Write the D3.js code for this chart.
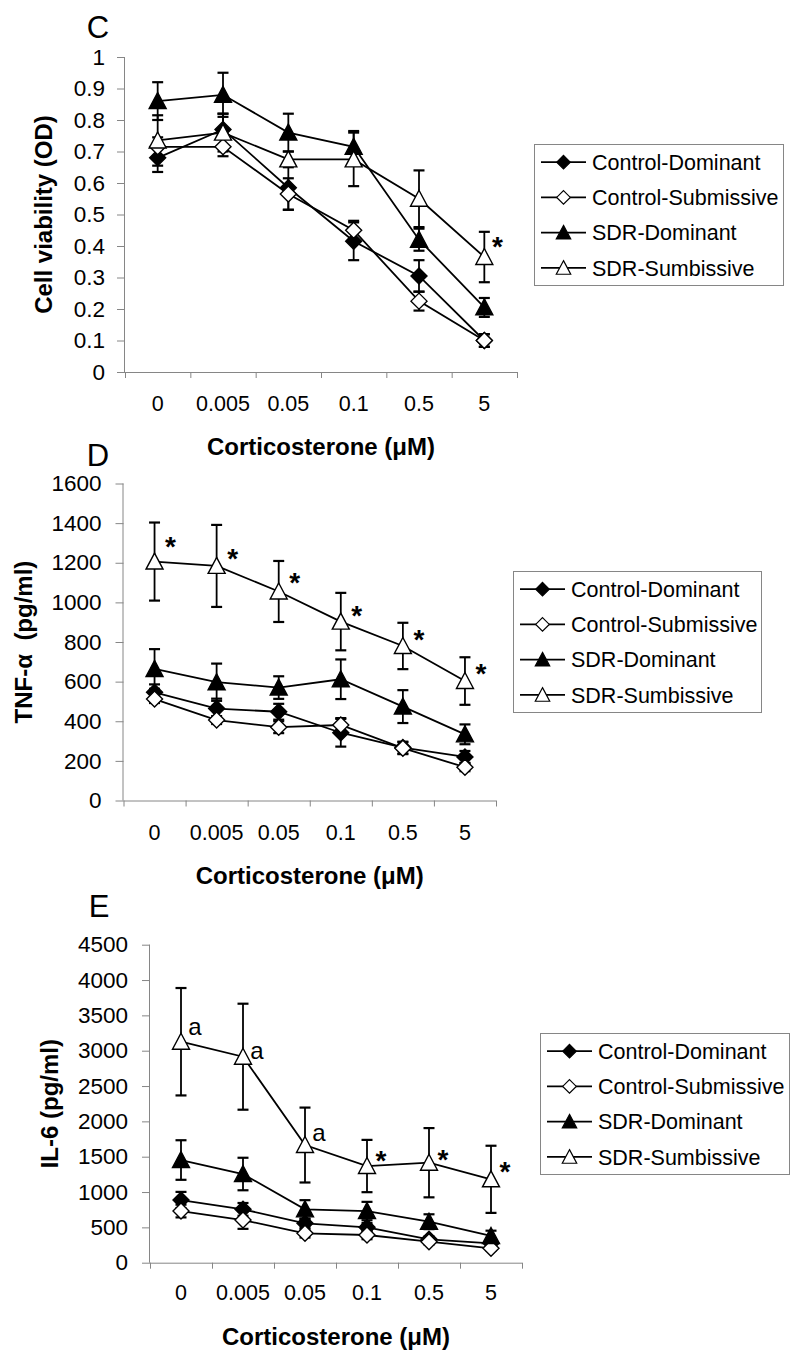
<!DOCTYPE html>
<html>
<head>
<meta charset="utf-8">
<script src="https://cdn.jsdelivr.net/npm/d3@7"></script>
<style>
  html, body { margin: 0; padding: 0; background: #fff; }
  svg { display: block; }
  text { font-family: "Liberation Sans", Arial, sans-serif; fill: #000; }
</style>
</head>
<body>
<script>
// ---------------- DATA ----------------
const doses = ["0", "0.005", "0.05", "0.1", "0.5", "5"];
const seriesNames = ["Control-Dominant", "Control-Submissive", "SDR-Dominant", "SDR-Sumbissive"];

// Panel C: cell viability (OD)
const cvTicks = [0, 0.1, 0.2, 0.3, 0.4, 0.5, 0.6, 0.7, 0.8, 0.9, 1];
const cvTickLabels = ["0", "0.1", "0.2", "0.3", "0.4", "0.5", "0.6", "0.7", "0.8", "0.9", "1"];
const cvControlDom = [0.68, 0.77, 0.585, 0.415, 0.305, 0.10];
const cvControlDomErr = [0.045, 0.05, 0.07, 0.06, 0.05, 0.02];
const cvControlSub = [0.715, 0.715, 0.565, 0.45, 0.225, 0.10];
const cvControlSubErr = [0.03, 0.03, 0.05, 0.03, 0.03, 0.02];
const cvSdrDom = [0.86, 0.88, 0.76, 0.715, 0.42, 0.205];
const cvSdrDomErr = [0.06, 0.07, 0.06, 0.05, 0.035, 0.03];
const cvSdrSub = [0.735, 0.76, 0.675, 0.675, 0.55, 0.365];
const cvSdrSubErr = [0.08, 0.06, 0.025, 0.085, 0.09, 0.08];
const cvMarks = [{ dose: "5", value: 0.42, label: "*" }];

// Panel D: TNF-alpha (pg/ml)
const tnfTicks = [0, 200, 400, 600, 800, 1000, 1200, 1400, 1600];
const tnfTickLabels = ["0", "200", "400", "600", "800", "1000", "1200", "1400", "1600"];
const tnfControlDom = [546, 464, 448, 342, 267, 220];
const tnfControlDomErr = [40, 50, 40, 70, 30, 30];
const tnfControlSub = [512, 406, 370, 381, 264, 168];
const tnfControlSubErr = [20, 20, 30, 35, 30, 20];
const tnfSdrDom = [664, 597, 570, 612, 474, 334];
const tnfSdrDomErr = [100, 94, 57, 100, 83, 50];
const tnfSdrSub = [1206, 1184, 1055, 903, 780, 603];
const tnfSdrSubErr = [197, 207, 154, 145, 117, 120];
const tnfMarks = [
  { dose: "0", value: 1316, label: "*" },
  { dose: "0.005", value: 1257, label: "*" },
  { dose: "0.05", value: 1134, label: "*" },
  { dose: "0.1", value: 969, label: "*" },
  { dose: "0.5", value: 847, label: "*" },
  { dose: "5", value: 676, label: "*" }
];

// Panel E: IL-6 (pg/ml)
const il6Ticks = [0, 500, 1000, 1500, 2000, 2500, 3000, 3500, 4000, 4500];
const il6TickLabels = ["0", "500", "1000", "1500", "2000", "2500", "3000", "3500", "4000", "4500"];
const il6ControlDom = [887, 755, 557, 501, 331, 274];
const il6ControlDomErr = [115, 90, 60, 60, 40, 40];
const il6ControlSub = [731, 604, 416, 392, 297, 204];
const il6ControlSubErr = [90, 125, 60, 60, 40, 30];
const il6SdrDom = [1453, 1255, 755, 731, 580, 378];
const il6SdrDomErr = [280, 230, 130, 130, 105, 75];
const il6SdrSub = [3127, 2915, 1665, 1368, 1415, 1180];
const il6SdrSubErr = [760, 750, 530, 370, 490, 475];
const il6Marks = [
  { dose: "0", value: 3317, label: "a" },
  { dose: "0.005", value: 2986, label: "a" },
  { dose: "0.05", value: 1821, label: "a" },
  { dose: "0.1", value: 1538, label: "*" },
  { dose: "0.5", value: 1557, label: "*" },
  { dose: "5", value: 1383, label: "*" }
];

const xTitle = "Corticosterone (\u03BCM)";

// ---------------- LAYOUT / STYLE ----------------
const W = 800, H = 1358;
const axisColor = "#868686";
const markerStyles = [
  { shape: "diamond", fill: "#000" },
  { shape: "diamond", fill: "#fff" },
  { shape: "triangle", fill: "#000" },
  { shape: "triangle", fill: "#fff" }
];

const panels = [
  {
    letter: "C", letterX: 98, letterY: 27,
    values: [cvControlDom, cvControlSub, cvSdrDom, cvSdrSub],
    errors: [cvControlDomErr, cvControlSubErr, cvSdrDomErr, cvSdrSubErr],
    ticks: cvTicks, tickLabels: cvTickLabels, domain: [0, 1],
    x0: 125, x1: 517, yTop: 57, yBot: 372, tickPad: 12,
    yTitle: ["Cell viability (OD)"], yTitleX: 52,
    xLabelY: 403, xTitleY: 447,
    legend: { x: 534, y: 144, w: 249, h: 141 },
    marks: cvMarks, markDx: 13
  },
  {
    letter: "D", letterX: 98, letterY: 455,
    values: [tnfControlDom, tnfControlSub, tnfSdrDom, tnfSdrSub],
    errors: [tnfControlDomErr, tnfControlSubErr, tnfSdrDomErr, tnfSdrSubErr],
    ticks: tnfTicks, tickLabels: tnfTickLabels, domain: [0, 1600],
    x0: 123.5, x1: 496, yTop: 483.5, yBot: 800.5, tickPad: 14,
    yTitle: ["TNF-", "\u03B1", "  (pg/ml)"], yTitleX: 32,
    xLabelY: 832, xTitleY: 876,
    legend: { x: 513, y: 571, w: 248, h: 141 },
    marks: tnfMarks, markDx: 16
  },
  {
    letter: "E", letterX: 99, letterY: 906,
    values: [il6ControlDom, il6ControlSub, il6SdrDom, il6SdrSub],
    errors: [il6ControlDomErr, il6ControlSubErr, il6SdrDomErr, il6SdrSubErr],
    ticks: il6Ticks, tickLabels: il6TickLabels, domain: [0, 4500],
    x0: 150, x1: 522, yTop: 944.7, yBot: 1262.7, tickPad: 14,
    yTitle: ["IL-6 (pg/ml)"], yTitleX: 58,
    xLabelY: 1292, xTitleY: 1337,
    legend: { x: 540, y: 1033, w: 249, h: 141 },
    marks: il6Marks, markDx: 14
  }
];

function markerPath(shape) {
  if (shape === "diamond") {
    const r = 8;
    return `M0,${-r}L${r},0L0,${r}L${-r},0Z`;
  }
  const hw = 8.5, h = 15;
  return `M0,${-h / 2 - 1}L${hw},${h / 2}L${-hw},${h / 2}Z`;
}

const svg = d3.select("body").append("svg")
  .attr("width", W).attr("height", H)
  .attr("viewBox", `0 0 ${W} ${H}`);

svg.append("rect").attr("width", W).attr("height", H).attr("fill", "#fff");

panels.forEach(p => {
  const g = svg.append("g");
  const x = d3.scaleBand().domain(doses).range([p.x0, p.x1]).padding(0);
  const y = d3.scaleLinear().domain(p.domain).range([p.yBot, p.yTop]);
  const cx = d => x(d) + x.bandwidth() / 2;

  // panel letter
  g.append("text").attr("x", p.letterX).attr("y", p.letterY).attr("dy", "0.36em")
    .attr("text-anchor", "middle").style("font-size", "31px").text(p.letter);

  // y axis
  const yAxis = d3.axisLeft(y).tickValues(p.ticks)
    .tickFormat((d, i) => p.tickLabels[i]).tickSize(8).tickPadding(p.tickPad);
  const ya = g.append("g").attr("transform", `translate(${p.x0},0)`).call(yAxis);
  ya.select(".domain").attr("stroke", axisColor).attr("d", `M-0.5,${p.yTop}V${p.yBot}`);
  ya.selectAll(".tick line").attr("stroke", axisColor);
  ya.selectAll(".tick text").style("font-size", "22.5px")
    .style("font-family", '"Liberation Sans", Arial, sans-serif').attr("fill", "#000");

  // x axis (category axis with ticks at band boundaries)
  const xa = g.append("g");
  xa.append("line").attr("x1", p.x0).attr("x2", p.x1)
    .attr("y1", p.yBot + 0.5).attr("y2", p.yBot + 0.5).attr("stroke", axisColor);
  const bounds = doses.map(d => x(d)).concat([x(doses[doses.length - 1]) + x.bandwidth()]);
  xa.selectAll("line.xt").data(bounds).join("line").attr("class", "xt")
    .attr("x1", d => d + 0.5).attr("x2", d => d + 0.5)
    .attr("y1", p.yBot).attr("y2", p.yBot + 6).attr("stroke", axisColor);
  xa.selectAll("text").data(doses).join("text")
    .attr("x", d => cx(d)).attr("y", p.xLabelY).attr("dy", "0.35em")
    .attr("text-anchor", "middle").style("font-size", "21.5px").text(d => d);

  // axis titles
  g.append("text").attr("x", (p.x0 + p.x1) / 2).attr("y", p.xTitleY).attr("dy", "0.35em")
    .attr("text-anchor", "middle").style("font-size", "24px").style("font-weight", "bold")
    .text(xTitle);
  const yc = (p.yTop + p.yBot) / 2;
  const yt = g.append("text").attr("transform", `translate(${p.yTitleX},${yc}) rotate(-90)`)
    .attr("text-anchor", "middle").style("font-size", "24px").style("font-weight", "bold");
  p.yTitle.forEach(s => {
    yt.append("tspan").style("white-space", "pre").attr("xml:space", "preserve").text(s);
  });

  // error bars
  p.values.forEach((vals, si) => {
    const errs = p.errors[si];
    const eb = g.append("g").attr("stroke", "#000").attr("stroke-width", 1.8);
    doses.forEach((d, i) => {
      const xc = cx(d), hi = y(vals[i] + errs[i]), lo = y(Math.max(p.domain[0], vals[i] - errs[i]));
      eb.append("line").attr("x1", xc).attr("x2", xc).attr("y1", hi).attr("y2", lo);
      eb.append("line").attr("x1", xc - 5.5).attr("x2", xc + 5.5).attr("y1", hi).attr("y2", hi).attr("stroke-width", 2.2);
      eb.append("line").attr("x1", xc - 5.5).attr("x2", xc + 5.5).attr("y1", lo).attr("y2", lo).attr("stroke-width", 2.2);
    });
  });

  // lines + markers
  const line = d3.line().x((v, i) => cx(doses[i])).y(v => y(v));
  p.values.forEach((vals, si) => {
    g.append("path").attr("d", line(vals)).attr("fill", "none")
      .attr("stroke", "#000").attr("stroke-width", 1.8);
  });
  p.values.forEach((vals, si) => {
    const st = markerStyles[si];
    g.selectAll(null).data(vals).join("path")
      .attr("transform", (v, i) => `translate(${cx(doses[i])},${y(v)})`)
      .attr("d", markerPath(st.shape))
      .attr("fill", st.fill).attr("stroke", "#000").attr("stroke-width", 1.4);
  });

  // significance marks
  g.selectAll(null).data(p.marks).join("text")
    .attr("x", d => cx(d.dose) + p.markDx)
    .attr("y", d => y(d.value))
    .attr("dy", d => d.label === "*" ? "0.58em" : "0.3em")
    .attr("text-anchor", "middle")
    .style("font-size", d => d.label === "*" ? "28px" : "24px")
    .style("font-weight", d => d.label === "*" ? "bold" : "normal")
    .text(d => d.label);

  // legend
  const L = p.legend;
  const lg = g.append("g").attr("transform", `translate(${L.x},${L.y})`);
  lg.append("rect").attr("x", 0.5).attr("y", 0.5).attr("width", L.w).attr("height", L.h)
    .attr("fill", "#fff").attr("stroke", axisColor);
  const rowH = L.h / 4;
  seriesNames.forEach((name, i) => {
    const ry = rowH * (i + 0.5) + 0.5;
    lg.append("line").attr("x1", 7).attr("x2", 52).attr("y1", ry).attr("y2", ry)
      .attr("stroke", "#000").attr("stroke-width", 1.8);
    const st = markerStyles[i];
    lg.append("path").attr("transform", `translate(29.5,${ry}) scale(0.85)`)
      .attr("d", markerPath(st.shape)).attr("fill", st.fill)
      .attr("stroke", "#000").attr("stroke-width", 1.4);
    lg.append("text").attr("x", 58).attr("y", ry).attr("dy", "0.36em")
      .style("font-size", "21.5px").text(name);
  });
});
</script>
</body>
</html>
